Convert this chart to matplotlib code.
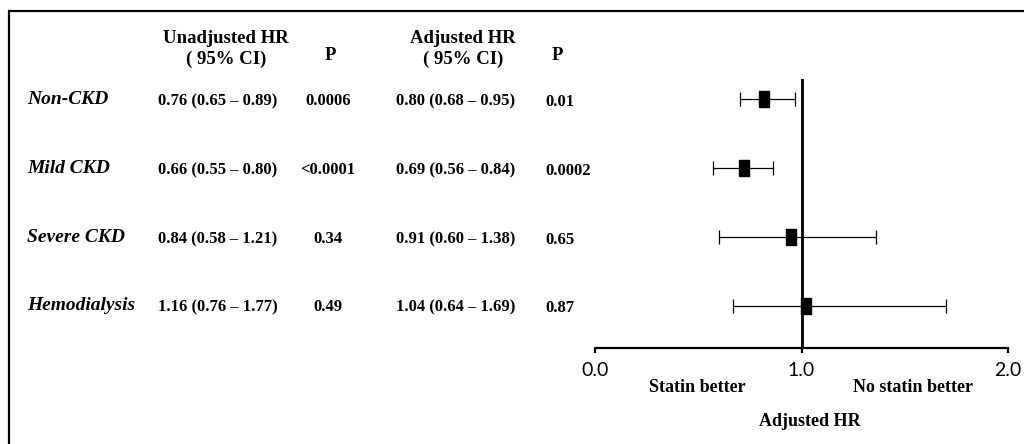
import matplotlib; matplotlib.use("Agg"); import matplotlib.pyplot as plt
import numpy as np

# table contents
groups = ["Non-CKD", "Mild CKD", "Severe CKD", "Hemodialysis"]
unadj_ci = ["0.76 (0.65 – 0.89)", "0.66 (0.55 – 0.80)", "0.84 (0.58 – 1.21)", "1.16 (0.76 – 1.77)"]
unadj_p = ["0.0006", "<0.0001", "0.34", "0.49"]
adj_ci = ["0.80 (0.68 – 0.95)", "0.69 (0.56 – 0.84)", "0.91 (0.60 – 1.38)", "1.04 (0.64 – 1.69)"]
adj_p = ["0.01", "0.0002", "0.65", "0.87"]

# adjusted HR as drawn in the forest plot
hr = np.array([0.82, 0.72, 0.95, 1.02])
lo = np.array([0.70, 0.57, 0.60, 0.67])
hi = np.array([0.97, 0.86, 1.36, 1.70])
xticks = [0.0, 1.0, 2.0]
xticklabels = ["0.0", "1.0", "2.0"]

SERIF = "Liberation Serif"
W, H = 1024, 444
fig = plt.figure(figsize=(W/100, H/100), dpi=100)
fig.patch.set_facecolor("white")

# overlay in pixel coordinates for the table text and frame
tx = fig.add_axes([0, 0, 1, 1]); tx.set_xlim(0, W); tx.set_ylim(H, 0); tx.axis("off")
tx.plot([9, 9, W], [H, 11, 11], color="k", lw=1.6, solid_joinstyle="miter")

hdr = dict(family=SERIF, weight="bold", fontsize=13.5, ha="center", va="center")
tx.text(226, 49, "Unadjusted HR\n( 95% CI)", linespacing=1.3, **hdr)
tx.text(330, 56, "P", **hdr)
tx.text(463, 49, "Adjusted HR\n( 95% CI)", linespacing=1.3, **hdr)
tx.text(557, 55, "P", **hdr)

row_y = [99, 168, 237, 305]
val = dict(family=SERIF, weight="bold", fontsize=12, va="center")
for i, g in enumerate(groups):
    y = row_y[i]
    tx.text(27, y, g, family=SERIF, weight="bold", style="italic", fontsize=14, va="center")
    tx.text(218, y + 2, unadj_ci[i], ha="center", **val)
    tx.text(328, y + 2, unadj_p[i], ha="center", **val)
    tx.text(456, y + 2, adj_ci[i], ha="center", **val)
    tx.text(545, y + 3, adj_p[i], ha="left", **val)

# forest plot
fa = fig.add_axes([595/W, (H-348)/H, 413/W, (348-79)/H])
fa.set_xlim(0, 2); fa.set_ylim(3.61, -0.29)
ypos = np.arange(len(groups))
fa.axvline(1.0, color="k", lw=2.0)
fa.errorbar(hr, ypos, xerr=[hr-lo, hi-hr], fmt="none", ecolor="k", elinewidth=0.9,
            capsize=4.7, capthick=0.9)
box = [(-0.3, -0.5), (0.3, -0.5), (0.3, 0.5), (-0.3, 0.5), (-0.3, -0.5)]
fa.plot(hr, ypos, ls="none", marker=box, ms=11, color="k", zorder=5)
for s in ("top", "right", "left"): fa.spines[s].set_visible(False)
fa.spines["bottom"].set_linewidth(1.6)
fa.set_yticks([])
fa.set_xticks(xticks)
fa.set_xticklabels(xticklabels, family="Lato", fontsize=14)
fa.tick_params(axis="x", direction="out", length=3.8, width=1.6, pad=6)
fa.patch.set_alpha(0)

lab = dict(family=SERIF, weight="bold", fontsize=13, ha="center", va="center")
tx.text(697, 387, "Statin better", **lab)
tx.text(913, 387, "No statin better", **lab)
tx.text(810, 421, "Adjusted HR", **lab)

fig.savefig("out.png", dpi=100, facecolor="white")
